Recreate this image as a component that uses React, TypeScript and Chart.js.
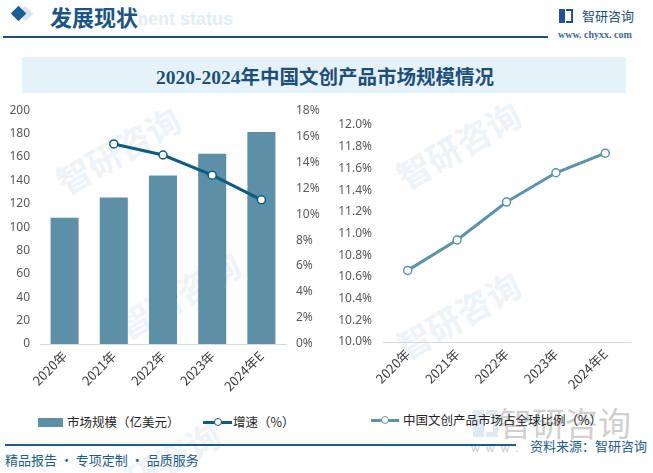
import React, { useEffect, useRef } from "react";
import { Chart, registerables } from "chart.js";
Chart.register(...registerables);

const categories = ["2020年", "2021年", "2022年", "2023年", "2024年E"];
const marketSize = [108.1, 125.4, 144.1, 162.8, 181.4];
const growthRate = [null, 15.4, 14.55, 13.0, 11.1];
const globalShare = [10.66, 10.94, 11.29, 11.56, 11.74];

const barColor = "#5c90a7";
const growthColor = "#0f5d7e";
const shareColor = "#5b93a9";
const tickFont = { family: '"Noto Sans", "Noto Sans CJK SC", sans-serif', size: 12 };
const cjk = '"Noto Sans CJK SC", "Noto Sans", sans-serif';
const xFont = { family: cjk, size: 13 };

export default function App() {
  const leftRef = useRef<HTMLCanvasElement>(null);
  const rightRef = useRef<HTMLCanvasElement>(null);

  useEffect(() => {
    document.body.style.margin = "0";
    const left = new Chart(leftRef.current!, {
      type: "bar",
      data: {
        labels: categories,
        datasets: [
          {
            type: "line",
            label: "增速（%）",
            data: growthRate,
            yAxisID: "y1",
            borderColor: growthColor,
            borderWidth: 3,
            pointRadius: 4,
            pointBorderWidth: 1.5,
            pointBackgroundColor: "#ffffff",
            pointBorderColor: growthColor,
            order: 1,
          } as any,
          {
            type: "bar",
            label: "市场规模（亿美元）",
            data: marketSize,
            yAxisID: "y",
            backgroundColor: barColor,
            categoryPercentage: 1,
            barPercentage: 0.57,
            order: 2,
          },
        ],
      },
      options: {
        animation: false,
        responsive: false,
        maintainAspectRatio: false,
        layout: { padding: { top: 2, left: 0, right: 0, bottom: 0 } },
        plugins: { legend: { display: false }, tooltip: { enabled: false } },
        scales: {
          x: {
            grid: { display: false, drawTicks: false },
            border: { display: true, color: "#d9d9d9", width: 1 },
            ticks: { color: "#404040", font: xFont, minRotation: 45, maxRotation: 45, padding: 4 },
            afterFit: (s: any) => { s.height = 56; },
          },
          y: {
            position: "left",
            min: 0,
            max: 200,
            grid: { display: false, drawTicks: false },
            border: { display: false },
            ticks: { stepSize: 20, color: "#595959", font: tickFont, padding: 10 },
            afterFit: (s: any) => { s.width = 40; },
          },
          y1: {
            position: "right",
            min: 0,
            max: 18,
            grid: { display: false, drawTicks: false },
            border: { display: false },
            ticks: { stepSize: 2, color: "#595959", font: tickFont, padding: 10, callback: (v: any) => v + "%" },
            afterFit: (s: any) => { s.width = 44; },
          },
        },
      },
    });

    const right = new Chart(rightRef.current!, {
      type: "line",
      data: {
        labels: categories,
        datasets: [
          {
            label: "中国文创产品市场占全球比例（%）",
            data: globalShare,
            borderColor: shareColor,
            borderWidth: 3,
            pointRadius: 4,
            pointBorderWidth: 1.5,
            pointBackgroundColor: "#ffffff",
            pointBorderColor: shareColor,
          },
        ],
      },
      options: {
        animation: false,
        responsive: false,
        maintainAspectRatio: false,
        layout: { padding: { top: 25, left: 0, right: 23, bottom: 0 } },
        plugins: { legend: { display: false }, tooltip: { enabled: false } },
        scales: {
          x: {
            offset: true,
            grid: { display: false, drawTicks: false },
            border: { display: true, color: "#d9d9d9", width: 1 },
            ticks: { color: "#404040", font: xFont, minRotation: 45, maxRotation: 45, padding: 4 },
            afterFit: (s: any) => { s.height = 58; },
          },
          y: {
            min: 10,
            max: 12,
            grid: { display: false, drawTicks: false },
            border: { display: false },
            ticks: { stepSize: 0.2, color: "#595959", font: tickFont, padding: 11, callback: (v: any) => Number(v).toFixed(1) + "%" },
            afterFit: (s: any) => { s.width = 53; },
          },
        },
      },
    });

    return () => {
      left.destroy();
      right.destroy();
    };
  }, []);

  const abs = (o: React.CSSProperties): React.CSSProperties => ({ position: "absolute", ...o });
  const wm = (left: number, top: number, size = 34): React.CSSProperties =>
    abs({ left, top, fontSize: size, color: "#eef3f7", transform: "rotate(-30deg)", whiteSpace: "nowrap", fontWeight: 700 });

  return (
    <div style={{ position: "relative", width: 653, height: 473, overflow: "hidden", background: "#ffffff", fontFamily: cjk }}>
      {/* faint watermarks */}
      <div style={wm(50, 125)}>智研咨询</div>
      <div style={wm(110, 270)}>智研咨询</div>
      <div style={wm(390, 120)}>智研咨询</div>
      <div style={wm(390, 290)}>智研咨询</div>
      <div style={wm(90, 440)}>智研咨询</div>

      {/* bottom-right logo watermark (behind legend) */}
      <div style={abs({ left: 473, top: 410, width: 11, height: 27, background: "#dde9f3" })} />
      <div style={abs({ left: 486, top: 410, width: 12, height: 27, border: "5px solid #dde9f3", borderLeft: "none", boxSizing: "border-box" })} />
      <div style={abs({ left: 499, top: 402, fontSize: 33, color: "#d0d0d0", lineHeight: "40px", whiteSpace: "nowrap" })}>智研咨询</div>
      <div style={abs({ left: 471, top: 440, fontSize: 11, color: "#c9c9c9", letterSpacing: 6, lineHeight: "14px", whiteSpace: "nowrap" })}>www.</div>

      {/* header */}
      <div style={abs({ left: 20, top: 8, width: 11, height: 11, background: "#d6e6f2", transform: "rotate(45deg)" })} />
      <div style={abs({ left: 13, top: 8, width: 11, height: 11, background: "#1a5f94", transform: "rotate(45deg)" })} />
      <div style={abs({ left: 62, top: 8, fontSize: 18, fontWeight: 700, color: "#e2edf6", fontFamily: '"Liberation Sans", sans-serif', whiteSpace: "nowrap", lineHeight: "22px" })}>Development status</div>
      <div style={abs({ left: 50, top: 1, fontSize: 22, fontWeight: 700, color: "#1b5585", background: "#ffffff", paddingRight: 1, lineHeight: "30px" })}>发展现状</div>
      <div style={abs({ left: 3, top: 36, width: 545, height: 1.5, background: "#1b4f7c" })} />
      <div style={abs({ left: 559, top: 9, width: 6, height: 14, background: "#27509a" })} />
      <div style={abs({ left: 566, top: 9, width: 7, height: 14, border: "2px solid #27509a", borderLeft: "none", boxSizing: "border-box" })} />
      <div style={abs({ left: 582, top: 7, fontSize: 13, color: "#1b4f7c", lineHeight: "18px", whiteSpace: "nowrap" })}>智研咨询</div>
      <div style={abs({ left: 558, top: 29, fontSize: 10, fontWeight: 700, color: "#3d6a94", fontFamily: '"Liberation Serif", serif', lineHeight: "12px", whiteSpace: "nowrap" })}>www. chyxx. com</div>

      {/* title box */}
      <div style={abs({ left: 22, top: 57, width: 604, height: 36, background: "#e6f2fa", display: "flex", alignItems: "center", justifyContent: "center" })}>
        <span style={{ fontSize: 19.5, fontWeight: 700, color: "#1d4f7b", fontFamily: '"Liberation Serif", "Noto Sans CJK SC", serif', marginLeft: 2 }}>2020-2024年中国文创产品市场规模情况</span>
      </div>

      <canvas ref={leftRef} width={330} height={307} style={abs({ left: 0, top: 93, width: 330, height: 307 })} />
      <canvas ref={rightRef} width={323} height={300} style={abs({ left: 330, top: 100, width: 323, height: 300 })} />

      {/* legends */}
      <div style={abs({ left: 38, top: 418, width: 25, height: 9, background: barColor })} />
      <div style={abs({ left: 67, top: 413, fontSize: 12.5, color: "#262626", lineHeight: "18px", whiteSpace: "nowrap" })}>市场规模（亿美元）</div>
      <div style={abs({ left: 203, top: 421, width: 29, height: 3, background: growthColor })} />
      <div style={abs({ left: 214, top: 418, width: 6, height: 6, borderRadius: "50%", background: "#fff", border: `1.5px solid ${growthColor}` })} />
      <div style={abs({ left: 233, top: 413, fontSize: 12.5, color: "#262626", lineHeight: "18px", whiteSpace: "nowrap" })}>增速（%）</div>

      <div style={abs({ left: 371, top: 419, width: 28, height: 3, background: shareColor })} />
      <div style={abs({ left: 381, top: 416, width: 6, height: 6, borderRadius: "50%", background: "#fff", border: `1.5px solid ${shareColor}` })} />
      <div style={abs({ left: 403, top: 411, fontSize: 12.5, color: "#262626", lineHeight: "18px", whiteSpace: "nowrap" })}>中国文创产品市场占全球比例（%）</div>

      {/* footer */}
      <div style={abs({ left: 5, top: 444, width: 511, height: 1.5, background: "#1b5c8c" })} />
      <div style={abs({ left: 5, top: 451, fontSize: 13, color: "#1d5c8c", lineHeight: "18px", whiteSpace: "nowrap" })}>精品报告 · 专项定制 · 品质服务</div>
      <div style={abs({ left: 530, top: 437, fontSize: 13, color: "#1d5c8c", lineHeight: "18px", whiteSpace: "nowrap" })}>资料来源：智研咨询</div>
    </div>
  );
}
